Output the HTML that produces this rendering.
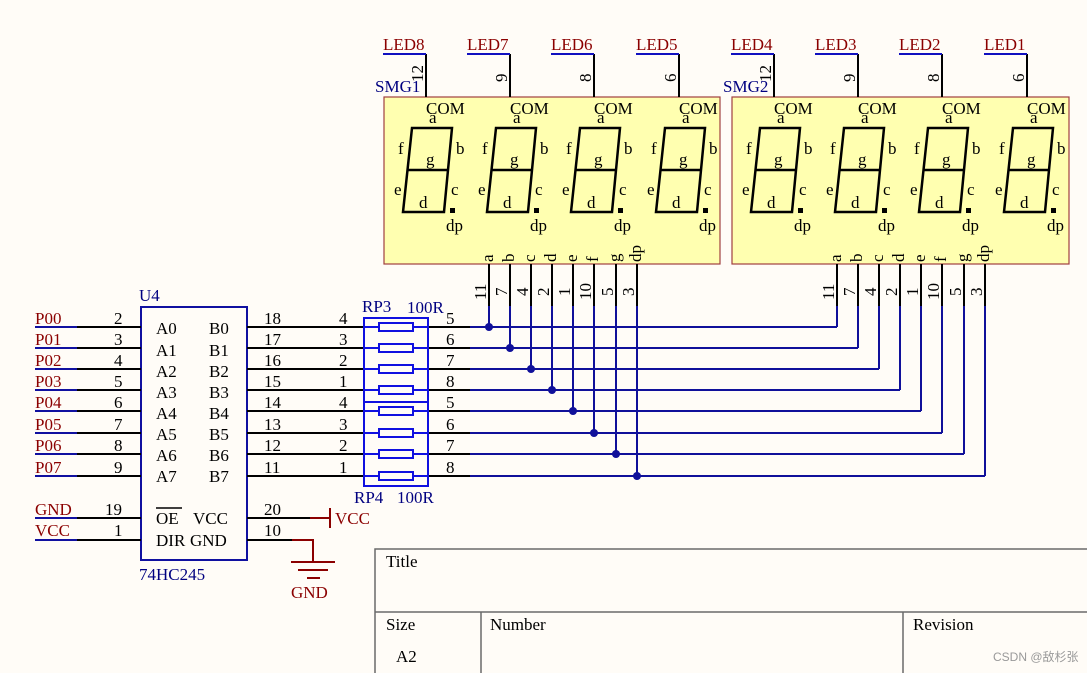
<!DOCTYPE html>
<html><head><meta charset="utf-8"><style>
html,body{margin:0;padding:0;background:#fffcf7;}
svg{display:block;font-family:"Liberation Serif",serif;}
</style></head><body>
<svg width="1087" height="673" viewBox="0 0 1087 673" xmlns="http://www.w3.org/2000/svg">
<rect width="1087" height="673" fill="#fffcf7"/>
<defs>
<g id="dig" stroke="#000" stroke-width="2.5" fill="none">
<path d="M-14 128 H26 L18 212 H-23 Z M-18 170 H22"/>
<rect x="24" y="208" width="5" height="5" fill="#000" stroke="none"/>
</g>
<g id="digt" font-size="17" fill="#000">
<text x="0" y="114">COM</text>
<text x="3" y="123">a</text>
<text x="-28" y="154">f</text>
<text x="30" y="154">b</text>
<text x="0" y="165">g</text>
<text x="-32" y="195">e</text>
<text x="25" y="195">c</text>
<text x="-7" y="208">d</text>
<text x="20" y="231">dp</text>
</g>
</defs>

<rect x="384" y="97" width="336" height="167" fill="#ffffb0" stroke="#a04040" stroke-width="1.2"/>
<rect x="732" y="97" width="337" height="167" fill="#ffffb0" stroke="#a04040" stroke-width="1.2"/>
<text x="375" y="92" font-size="17" fill="#000080">SMG1</text>
<text x="723" y="92" font-size="17" fill="#000080">SMG2</text>

<g transform="translate(426,0)"><use href="#dig"/><use href="#digt"/></g>
<g transform="translate(510,0)"><use href="#dig"/><use href="#digt"/></g>
<g transform="translate(594,0)"><use href="#dig"/><use href="#digt"/></g>
<g transform="translate(679,0)"><use href="#dig"/><use href="#digt"/></g>
<g transform="translate(774,0)"><use href="#dig"/><use href="#digt"/></g>
<g transform="translate(858,0)"><use href="#dig"/><use href="#digt"/></g>
<g transform="translate(942,0)"><use href="#dig"/><use href="#digt"/></g>
<g transform="translate(1027,0)"><use href="#dig"/><use href="#digt"/></g>

<g stroke="#000" stroke-width="2">
<path d="M426 54V97 M510 54V97 M594 54V97 M679 54V97 M774 54V97 M858 54V97 M942 54V97 M1027 54V97"/>
</g>
<g stroke="#1010c0" stroke-width="2">
<path d="M383 54H426 M467 54H510 M551 54H594 M636 54H679 M731 54H774 M815 54H858 M899 54H942 M984 54H1027"/>
</g>
<g font-size="17" fill="#8b0000">
<text x="383" y="50">LED8</text><text x="467" y="50">LED7</text><text x="551" y="50">LED6</text><text x="636" y="50">LED5</text>
<text x="731" y="50">LED4</text><text x="815" y="50">LED3</text><text x="899" y="50">LED2</text><text x="984" y="50">LED1</text>
</g>
<g font-size="17" fill="#000">
<text transform="translate(423,82) rotate(-90)">12</text>
<text transform="translate(507,82) rotate(-90)">9</text>
<text transform="translate(591,82) rotate(-90)">8</text>
<text transform="translate(676,82) rotate(-90)">6</text>
<text transform="translate(771,82) rotate(-90)">12</text>
<text transform="translate(855,82) rotate(-90)">9</text>
<text transform="translate(939,82) rotate(-90)">8</text>
<text transform="translate(1024,82) rotate(-90)">6</text>
</g>

<g font-size="17" fill="#000">
<text transform="translate(493,262) rotate(-90)">a</text>
<text transform="translate(514,262) rotate(-90)">b</text>
<text transform="translate(535,262) rotate(-90)">c</text>
<text transform="translate(556,262) rotate(-90)">d</text>
<text transform="translate(577,262) rotate(-90)">e</text>
<text transform="translate(598,262) rotate(-90)">f</text>
<text transform="translate(620,262) rotate(-90)">g</text>
<text transform="translate(641,262) rotate(-90)">dp</text>
<text transform="translate(841,262) rotate(-90)">a</text>
<text transform="translate(862,262) rotate(-90)">b</text>
<text transform="translate(883,262) rotate(-90)">c</text>
<text transform="translate(904,262) rotate(-90)">d</text>
<text transform="translate(925,262) rotate(-90)">e</text>
<text transform="translate(946,262) rotate(-90)">f</text>
<text transform="translate(968,262) rotate(-90)">g</text>
<text transform="translate(989,262) rotate(-90)">dp</text>

<text transform="translate(486,300) rotate(-90)">11</text>
<text transform="translate(507,296) rotate(-90)">7</text>
<text transform="translate(528,296) rotate(-90)">4</text>
<text transform="translate(549,296) rotate(-90)">2</text>
<text transform="translate(570,296) rotate(-90)">1</text>
<text transform="translate(591,300) rotate(-90)">10</text>
<text transform="translate(613,296) rotate(-90)">5</text>
<text transform="translate(634,296) rotate(-90)">3</text>
<text transform="translate(834,300) rotate(-90)">11</text>
<text transform="translate(855,296) rotate(-90)">7</text>
<text transform="translate(876,296) rotate(-90)">4</text>
<text transform="translate(897,296) rotate(-90)">2</text>
<text transform="translate(918,296) rotate(-90)">1</text>
<text transform="translate(939,300) rotate(-90)">10</text>
<text transform="translate(961,296) rotate(-90)">5</text>
<text transform="translate(982,296) rotate(-90)">3</text>
</g>

<g stroke="#000" stroke-width="2">
<path d="M489 264V306 M510 264V306 M531 264V306 M552 264V306 M573 264V306 M594 264V306 M616 264V306 M637 264V306"/>
<path d="M837 264V306 M858 264V306 M879 264V306 M900 264V306 M921 264V306 M942 264V306 M964 264V306 M985 264V306"/>
</g>
<g stroke="#10109a" stroke-width="2" fill="none">
<path d="M489 306V327 M510 306V348 M531 306V369 M552 306V390 M573 306V411 M594 306V433 M616 306V454 M637 306V476"/>
<path d="M837 306V327 M858 306V348 M879 306V369 M900 306V390 M921 306V411 M942 306V433 M964 306V454 M985 306V476"/>
<path d="M470 327H837 M470 348H858 M470 369H879 M470 390H900 M470 411H921 M470 433H942 M470 454H964 M470 476H985"/>
</g>
<g fill="#10109a">
<circle cx="489" cy="327" r="4"/><circle cx="510" cy="348" r="4"/><circle cx="531" cy="369" r="4"/><circle cx="552" cy="390" r="4"/>
<circle cx="573" cy="411" r="4"/><circle cx="594" cy="433" r="4"/><circle cx="616" cy="454" r="4"/><circle cx="637" cy="476" r="4"/>
</g>

<rect x="141" y="307" width="106" height="253" fill="none" stroke="#1010a0" stroke-width="2"/>
<text x="139" y="301" font-size="17" fill="#000080">U4</text>
<text x="139" y="580" font-size="17" fill="#000080">74HC245</text>
<g stroke="#000" stroke-width="2">
<path d="M77 327H141 M77 348H141 M77 369H141 M77 390H141 M77 411H141 M77 433H141 M77 454H141 M77 476H141 M77 518H141 M77 540H141"/>
<path d="M247 327H364 M247 348H364 M247 369H364 M247 390H364 M247 411H364 M247 433H364 M247 454H364 M247 476H364"/>
<path d="M428 327H470 M428 348H470 M428 369H470 M428 390H470 M428 411H470 M428 433H470 M428 454H470 M428 476H470"/>
<path d="M247 518H310 M247 540H292"/>
</g>
<g stroke="#1010a0" stroke-width="2">
<path d="M35 327H77 M35 348H77 M35 369H77 M35 390H77 M35 411H77 M35 433H77 M35 454H77 M35 476H77 M35 518H77 M35 540H77"/>
</g>
<g font-size="17" fill="#8b0000">
<text x="35" y="324">P00</text><text x="35" y="345">P01</text><text x="35" y="366">P02</text><text x="35" y="387">P03</text>
<text x="35" y="408">P04</text><text x="35" y="430">P05</text><text x="35" y="451">P06</text><text x="35" y="473">P07</text>
<text x="35" y="515">GND</text><text x="35" y="536">VCC</text>
</g>
<g font-size="17" fill="#000">
<text x="114" y="324">2</text><text x="114" y="345">3</text><text x="114" y="366">4</text><text x="114" y="387">5</text>
<text x="114" y="408">6</text><text x="114" y="430">7</text><text x="114" y="451">8</text><text x="114" y="473">9</text>
<text x="105" y="515">19</text><text x="114" y="536">1</text>
<text x="156" y="334">A0</text><text x="156" y="356">A1</text><text x="156" y="377">A2</text><text x="156" y="398">A3</text>
<text x="156" y="419">A4</text><text x="156" y="440">A5</text><text x="156" y="461">A6</text><text x="156" y="482">A7</text>
<text x="209" y="334">B0</text><text x="209" y="356">B1</text><text x="209" y="377">B2</text><text x="209" y="398">B3</text>
<text x="209" y="419">B4</text><text x="209" y="440">B5</text><text x="209" y="461">B6</text><text x="209" y="482">B7</text>
<text x="156" y="524">OE</text><text x="193" y="524">VCC</text>
<text x="156" y="546">DIR</text><text x="190" y="546">GND</text>
<text x="264" y="324">18</text><text x="264" y="345">17</text><text x="264" y="366">16</text><text x="264" y="387">15</text>
<text x="264" y="408">14</text><text x="264" y="430">13</text><text x="264" y="451">12</text><text x="264" y="473">11</text>
<text x="264" y="515">20</text><text x="264" y="536">10</text>
<text x="339" y="324">4</text><text x="339" y="345">3</text><text x="339" y="366">2</text><text x="339" y="387">1</text>
<text x="339" y="408">4</text><text x="339" y="430">3</text><text x="339" y="451">2</text><text x="339" y="473">1</text>
<text x="446" y="324">5</text><text x="446" y="345">6</text><text x="446" y="366">7</text><text x="446" y="387">8</text>
<text x="446" y="408">5</text><text x="446" y="430">6</text><text x="446" y="451">7</text><text x="446" y="473">8</text>
</g>
<line x1="156" y1="508" x2="182" y2="508" stroke="#000" stroke-width="1.5"/>

<g stroke="#1010e0" stroke-width="2" fill="none">
<rect x="364" y="318" width="64" height="84"/>
<rect x="364" y="402" width="64" height="84"/>
<path d="M364 327H428 M364 348H428 M364 369H428 M364 390H428 M364 411H428 M364 433H428 M364 454H428 M364 476H428"/>
</g>
<g stroke="#1010e0" stroke-width="2" fill="#fffcf7">
<rect x="379" y="323" width="34" height="8"/><rect x="379" y="344" width="34" height="8"/>
<rect x="379" y="365" width="34" height="8"/><rect x="379" y="386" width="34" height="8"/>
<rect x="379" y="407" width="34" height="8"/><rect x="379" y="429" width="34" height="8"/>
<rect x="379" y="450" width="34" height="8"/><rect x="379" y="472" width="34" height="8"/>
</g>
<g font-size="17" fill="#000080">
<text x="362" y="312">RP3</text><text x="407" y="313">100R</text>
<text x="354" y="503">RP4</text><text x="397" y="503">100R</text>
</g>

<g stroke="#8b0000" stroke-width="2" fill="none">
<path d="M310 518H330 M330 508V528"/>
<path d="M292 540H313V562 M291 562H335 M298 570H328 M307 578H320"/>
</g>
<g font-size="17" fill="#8b0000">
<text x="335" y="524">VCC</text>
<text x="291" y="598">GND</text>
</g>

<g stroke="#6a6a6a" stroke-width="1.5" fill="none">
<path d="M375 673V549H1087 M375 612H1087 M481 612V673 M903 612V673"/>
</g>
<g font-size="17" fill="#000">
<text x="386" y="567">Title</text>
<text x="386" y="630">Size</text>
<text x="396" y="662">A2</text>
<text x="490" y="630">Number</text>
<text x="913" y="630">Revision</text>
</g>
<text x="993" y="661" font-size="12" fill="#999" font-family="Liberation Sans, Noto Sans CJK SC, sans-serif">CSDN @敌杉张</text>
</svg>
</body></html>
